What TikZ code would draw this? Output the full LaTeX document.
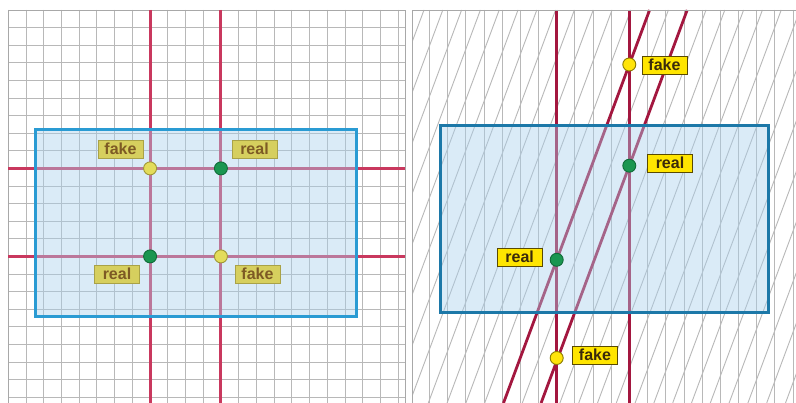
\documentclass[tikz,border=0pt]{standalone}
\usepackage{fontspec}
\setmainfont{Liberation Sans}
\definecolor{gridgray}{HTML}{B8B8B8}
\definecolor{framegray}{HTML}{A8A8A8}
\definecolor{redL}{HTML}{C9385E}
\definecolor{blueL}{HTML}{2A9BD3}
\definecolor{fillblue}{HTML}{A8D0EE}
\definecolor{lblfillL}{HTML}{D6CF5E}
\definecolor{lblbordL}{HTML}{A9A247}
\definecolor{lbltextL}{HTML}{7D5A24}
\definecolor{dotgreen}{HTML}{1A9650}
\definecolor{dotgreenb}{HTML}{0F6B38}
\definecolor{dotyelL}{HTML}{E3DC5A}
\definecolor{dotyelLb}{HTML}{9E9735}
\definecolor{redR}{HTML}{A3173F}
\definecolor{blueR}{HTML}{1C78A8}
\definecolor{lblfillR}{HTML}{FFE500}
\definecolor{lblbordR}{HTML}{5A4A00}
\definecolor{lbltextR}{HTML}{3A2A0A}
\definecolor{dotyelR}{HTML}{FFE40A}
\definecolor{dotyelRb}{HTML}{8A7A00}
\begin{document}
\begin{tikzpicture}[x=1pt,y=-1pt,
  gridline/.style={draw=gridgray,line width=0.9pt},
  redlineL/.style={draw=redL,line width=3pt},
  redlineR/.style={draw=redR,line width=2.8pt},
  zoneL/.style={draw=blueL,line width=3pt,fill=fillblue,fill opacity=0.42},
  zoneR/.style={draw=blueR,line width=3pt,fill=fillblue,fill opacity=0.42},
  dotbase/.style={circle,minimum size=13pt,inner sep=0pt,line width=0.9pt},
  realdot/.style={dotbase,fill=dotgreen,draw=dotgreenb},
  fakedotL/.style={dotbase,fill=dotyelL,draw=dotyelLb},
  fakedotR/.style={dotbase,fill=dotyelR,draw=dotyelRb},
  lblbase/.style={font=\bfseries\fontsize{16}{16}\selectfont,minimum width=45pt,minimum height=18pt,inner sep=0pt,line width=0.9pt},
  lblL/.style={lblbase,fill=lblfillL,draw=lblbordL,text=lbltextL},
  lblR/.style={lblbase,fill=lblfillR,draw=lblbordR,text=lbltextR}]
\useasboundingbox (0,0) rectangle (796,403);
\fill[white] (0,0) rectangle (796,403);
% ---------- left panel ----------
\begin{scope}
\clip (8.3,10) rectangle (405,403);
\foreach \k in {0,...,22} \draw[gridline] ({8.3+\k*17.72},10) -- ({8.3+\k*17.72},403);
\foreach \k in {0,...,22} \draw[gridline] (8.3,{10+\k*17.6}) -- (405,{10+\k*17.6});
\end{scope}
\draw[draw=framegray,line width=0.9pt] (8.3,403) -- (8.3,10) -- (405,10) -- (405,403);
\coordinate (lv1t) at (150.1,10);  \coordinate (lv1b) at (150.1,403);
\coordinate (lv2t) at (220.9,10);  \coordinate (lv2b) at (220.9,403);
\coordinate (lh1l) at (8.3,168.4); \coordinate (lh1r) at (405,168.4);
\coordinate (lh2l) at (8.3,256.4); \coordinate (lh2r) at (405,256.4);
\draw[redlineL] (lv1t) -- (lv1b);
\draw[redlineL] (lv2t) -- (lv2b);
\draw[redlineL] (lh1l) -- (lh1r);
\draw[redlineL] (lh2l) -- (lh2r);
\draw[zoneL] (35.7,130) rectangle (356,316.7);
\node[fakedotL] (lf1) at (150.1,168.4) {};
\node[realdot]  (lr1) at (220.9,168.4) {};
\node[realdot]  (lr2) at (150.1,256.4) {};
\node[fakedotL] (lf2) at (220.9,256.4) {};
\node[lblL] (tlf1) at (120.5,149) {fake};
\node[lblL] (tlr1) at (254.5,149) {real};
\node[lblL] (tlr2) at (117,274) {real};
\node[lblL] (tlf2) at (257.5,274) {fake};
% ---------- right panel ----------
\begin{scope}
\clip (412.7,10) rectangle (796,403);
\foreach \k in {0,...,21} \draw[gridline] ({411.4+\k*18.17},10) -- ({411.4+\k*18.17},403);
\foreach \k in {-14,...,16} \draw[gridline] ({649.6+\k*18.8},10) -- ({503.5+\k*18.8},403);
\coordinate (rat) at (649.6,10);  \coordinate (rab) at (503.5,403);
\coordinate (rbt) at (687.2,10);  \coordinate (rbb) at (541.1,403);
\coordinate (rv1t) at (556.7,10); \coordinate (rv1b) at (556.7,403);
\coordinate (rv2t) at (629.3,10); \coordinate (rv2b) at (629.3,403);
\draw[redlineR] (rv1t) -- (rv1b);
\draw[redlineR] (rv2t) -- (rv2b);
\draw[redlineR] (rat) -- (rab);
\draw[redlineR] (rbt) -- (rbb);
\end{scope}
\draw[draw=framegray,line width=0.9pt] (412.7,403) -- (412.7,10) -- (796,10);
\draw[zoneR] (440,125.3) rectangle (768.3,312.3);
\node[fakedotR] (rf1) at (629.3,64.5) {};
\node[realdot]  (rr1) at (629.3,165.7) {};
\node[realdot]  (rr2) at (556.7,259.8) {};
\node[fakedotR] (rf2) at (556.7,358) {};
\node[lblR] (trf1) at (664.5,65) {fake};
\node[lblR] (trr1) at (670,163) {real};
\node[lblR] (trr2) at (519.7,257) {real};
\node[lblR] (trf2) at (595,355) {fake};
\end{tikzpicture}
\end{document}
